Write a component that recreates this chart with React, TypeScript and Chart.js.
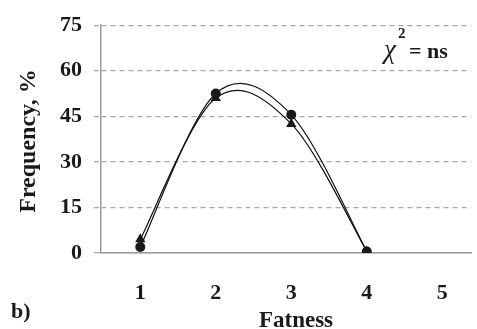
import React, { useEffect, useRef } from "react";
import { Chart, registerables } from "chart.js";

Chart.register(...registerables);

const fatness = [1, 2, 3, 4];
const seriesCircle = [2, 52.5, 45.5, 0.5];
const seriesTriangle = [4.5, 51, 42.5, 0.5];
const xTicks = [1, 2, 3, 4, 5];
const yTicks = [0, 15, 30, 45, 60, 75];
const panelLabel = "b)";
const xTitle = "Fatness";
const yTitle = "Frequency, %";

const FONT = "'Liberation Serif', 'Times New Roman', serif";

// Excel-like smoothing: Catmull-Rom control points in pixel space
function smoothLines(chart: any) {
  chart.data.datasets.forEach((_ds: any, di: number) => {
    const meta = chart.getDatasetMeta(di);
    const line = meta.dataset;
    if (!line) return;
    if (typeof line.updateControlPoints === "function") line.updateControlPoints(chart.chartArea, "x");
    const pts = meta.data;
    const n = pts.length;
    for (let i = 0; i < n; i++) {
      const p = pts[i];
      const prev = pts[i - 1] || p;
      const next = pts[i + 1] || p;
      const dx = (next.x - prev.x) / 6;
      const dy = (next.y - prev.y) / 6;
      p.cp1x = p.x - dx;
      p.cp1y = p.y - dy;
      p.cp2x = p.x + dx;
      p.cp2y = p.y + dy;
    }
    line._pointsUpdated = true;
    line._path = undefined;
  });
}

const smoothPlugin = {
  id: "excelSmooth",
  afterDatasetsUpdate(chart: any) {
    smoothLines(chart);
  },
  beforeDatasetsDraw(chart: any) {
    smoothLines(chart);
  },
};

const textPlugin = {
  id: "extraText",
  afterDraw(chart: any) {
    const ctx = chart.ctx;
    ctx.save();
    ctx.fillStyle = "#1a1a1a";
    ctx.textBaseline = "alphabetic";
    // panel label
    ctx.textAlign = "left";
    ctx.font = `bold 22px ${FONT}`;
    ctx.fillText(panelLabel, 11, 318);
    // x title
    ctx.textAlign = "center";
    ctx.font = `bold 23px ${FONT}`;
    ctx.fillText(xTitle, 296, 327);
    // y title
    ctx.save();
    ctx.translate(35, 141);
    ctx.rotate(-Math.PI / 2);
    ctx.font = `bold 24px ${FONT}`;
    ctx.fillText(yTitle, 0, 0);
    ctx.restore();
    // chi-square note
    ctx.textAlign = "left";
    ctx.font = `italic 27px ${FONT}`;
    ctx.fillText("\u03c7", 384, 58);
    ctx.font = `bold 15px ${FONT}`;
    ctx.fillText("2", 398, 38);
    ctx.font = `bold 22px ${FONT}`;
    ctx.fillText("= ns", 409, 58);
    ctx.restore();
  },
};

export default function App() {
  const ref = useRef<HTMLCanvasElement | null>(null);
  useEffect(() => {
    if (!ref.current) return;
    const chart = new Chart(ref.current, {
      type: "line",
      data: {
        datasets: [
          {
            label: "triangle",
            data: fatness.map((x, i) => ({ x, y: seriesTriangle[i] })),
            borderColor: "#111",
            backgroundColor: "#1a1a1a",
            borderWidth: 1.2,
            pointStyle: "triangle",
            pointRadius: 6,
            pointBorderWidth: 0,
            tension: 0.4,
          },
          {
            label: "circle",
            data: fatness.map((x, i) => ({ x, y: seriesCircle[i] })),
            borderColor: "#111",
            backgroundColor: "#1a1a1a",
            borderWidth: 1.2,
            pointStyle: "circle",
            pointRadius: 5,
            pointBorderWidth: 0,
            tension: 0.4,
          },
        ],
      },
      options: {
        responsive: false,
        animation: false,
        layout: { padding: { top: 21, right: 0, left: 0, bottom: 0 } },
        plugins: { legend: { display: false }, tooltip: { enabled: false } },
        scales: {
          x: {
            type: "linear",
            min: 0.48,
            max: 5.38,
            afterBuildTicks: (s: any) => {
              s.ticks = xTicks.map((v) => ({ value: v }));
            },
            afterFit: (s: any) => {
              s.height = 76;
            },
            ticks: {
              includeBounds: false,
              color: "#1a1a1a",
              font: { family: FONT, size: 22, weight: "bold" },
              padding: 27,
            },
            grid: { display: false, drawTicks: false },
            border: { display: true, color: "#9a9a9a", width: 1.5 },
          },
          y: {
            min: 0,
            max: 75,
            afterBuildTicks: (s: any) => {
              s.ticks = yTicks.map((v) => ({ value: v }));
            },
            afterFit: (s: any) => {
              s.width = 101;
            },
            ticks: {
              color: "#1a1a1a",
              font: { family: FONT, size: 22, weight: "bold" },
              padding: 12,
            },
            grid: {
              color: "#a8a8a8",
              lineWidth: 1.3,
              tickLength: 7,
              tickBorderDash: (c: any) => (c.tick && c.tick.value === 0 ? [] : [5, 4]),
            },
            border: {
              display: true,
              color: "#9a9a9a",
              width: 1.5,
              dash: (c: any) => (c.tick && c.tick.value === 0 ? [] : [5, 4]),
            },
          },
        },
      },
      plugins: [smoothPlugin, textPlugin],
    } as any);
    return () => chart.destroy();
  }, []);
  return (
    <div style={{ position: "fixed", left: 0, top: 0, width: 477, height: 329, background: "#fff" }}>
      <canvas ref={ref} width={477} height={329} style={{ display: "block" }} />
    </div>
  );
}
